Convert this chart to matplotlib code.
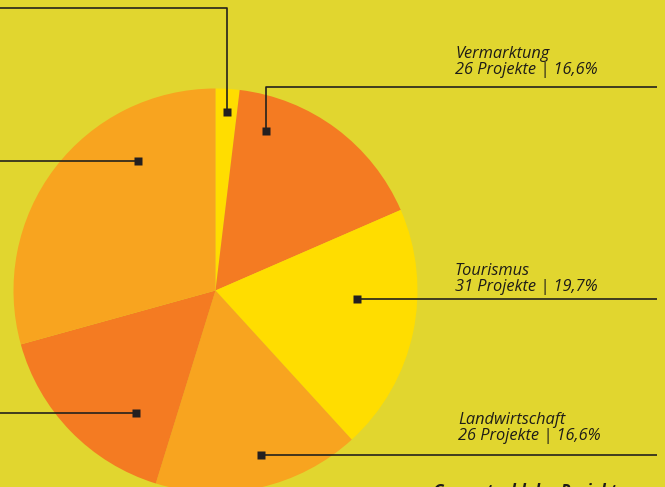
import matplotlib
matplotlib.use("Agg")
import matplotlib.pyplot as plt

# Data
categories = ["Sonstiges", "Vermarktung", "Tourismus", "Landwirtschaft", "Kategorie 5", "Kategorie 6"]
projects = [3, 26, 31, 26, 25, 46]
percent_labels = ["1,9%", "16,6%", "19,7%", "16,6%", "15,9%", "29,3%"]
colors = ["#FFDD00", "#F47B22", "#FFDD00", "#F8A41F", "#F47B22", "#F8A41F"]

BG = "#E1D62F"
LINE = "#24221C"

W, H = 665, 487
fig = plt.figure(figsize=(W / 100, H / 100), dpi=100, facecolor=BG)
ax = fig.add_axes([0, 0, 1, 1])
ax.set_facecolor(BG)

cx, cy, R = 215.5, H - 290.5, 202
ax.pie(projects, colors=colors, startangle=90, counterclock=False,
       center=(cx, cy), radius=R, wedgeprops=dict(linewidth=0),
       frame=True)
ax.set_xlim(0, W)
ax.set_ylim(0, H)
ax.set_aspect("equal")
ax.axis("off")

def Y(y):
    return H - y

# Leader lines (layout, in pixel coords from top-left)
leaders = [
    [(227, 112), (227, 8), (-5, 8)],
    [(266, 131), (266, 87), (657, 87)],
    [(357, 299), (657, 299)],
    [(261, 455), (657, 455)],
    [(136, 413), (-5, 413)],
    [(138, 161), (-5, 161)],
]
for pts in leaders:
    xs = [p[0] for p in pts]
    ys = [Y(p[1]) for p in pts]
    ax.plot(xs, ys, color=LINE, lw=1.2, solid_capstyle="butt", zorder=5)
    ax.plot([xs[0]], [ys[0]], marker="s", ms=5.2, color="#231F20",
            mec="none", zorder=6)

# Labels
label_pos = {1: (455, 74), 2: (455, 291), 3: (458, 440)}
for i, (x, yb) in label_pos.items():
    ax.text(x, Y(yb), f"{categories[i]}\n{projects[i]} Projekte | {percent_labels[i]}",
            fontfamily="Open Sans", fontstyle="italic", fontsize=11.8,
            color="#1E1C18", ha="left", va="baseline", linespacing=0.98, zorder=7)

ax.text(433, Y(497), "Gesamtzahl der Projekte", fontfamily="Open Sans",
        fontstyle="italic", fontweight="bold", fontsize=12, color="#1E1C18",
        ha="left", va="baseline", zorder=7, clip_on=False)

fig.savefig("out.png", dpi=100, facecolor=BG)
